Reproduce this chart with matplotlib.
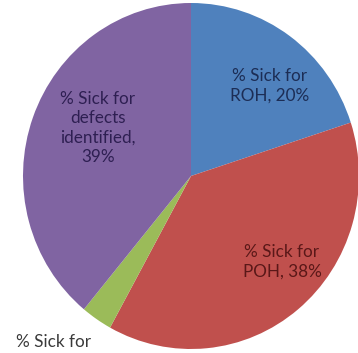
import matplotlib
matplotlib.use("Agg")
import matplotlib.pyplot as plt
from matplotlib.transforms import IdentityTransform

# Share of sick cases by cause
categories = ["% Sick for\nROH", "% Sick for\nPOH", "% Sick for\nothers", "% Sick for\ndefects\nidentified,"]
shares = [20, 38, 3, 39]
colors = ["#4F81BD", "#C0504D", "#9BBB59", "#8064A2"]
text_colors = ["#1c2d55", "#5a1818", "#3a3a3a", "#2e1f52"]
# label anchor points, in pixels from the top-left corner
label_xy = [(270, 86), (282, 262), (54, 352), (98, 128)]

plt.rcParams["font.family"] = ["Lato", "DejaVu Sans"]

W, H = 358, 353
fig = plt.figure(figsize=(W / 100, H / 100), dpi=100)
ax = fig.add_axes([0, 0, 1, 1])

# pie is slightly taller than wide
cx, cy = 191, 176          # centre, pixels from top-left
rx, ry = 168, 173
k = rx / ry
ax.pie(shares, colors=colors, startangle=90, counterclock=False,
       center=(cx, (H - cy) * k), radius=rx, frame=True)
ax.set_aspect("auto")
ax.set_xlim(0, W)
ax.set_ylim(0, H * k)
ax.axis("off")

for cat, val, tc, (x, y) in zip(categories, shares, text_colors, label_xy):
    sep = "\n" if cat.endswith(",") else ", "
    ax.text(x, H - y, f"{cat}{sep}{val}%", transform=IdentityTransform(),
            ha="center", va="center", fontsize=12.3, color=tc,
            linespacing=1.27)

fig.savefig("out.png", dpi=100)
